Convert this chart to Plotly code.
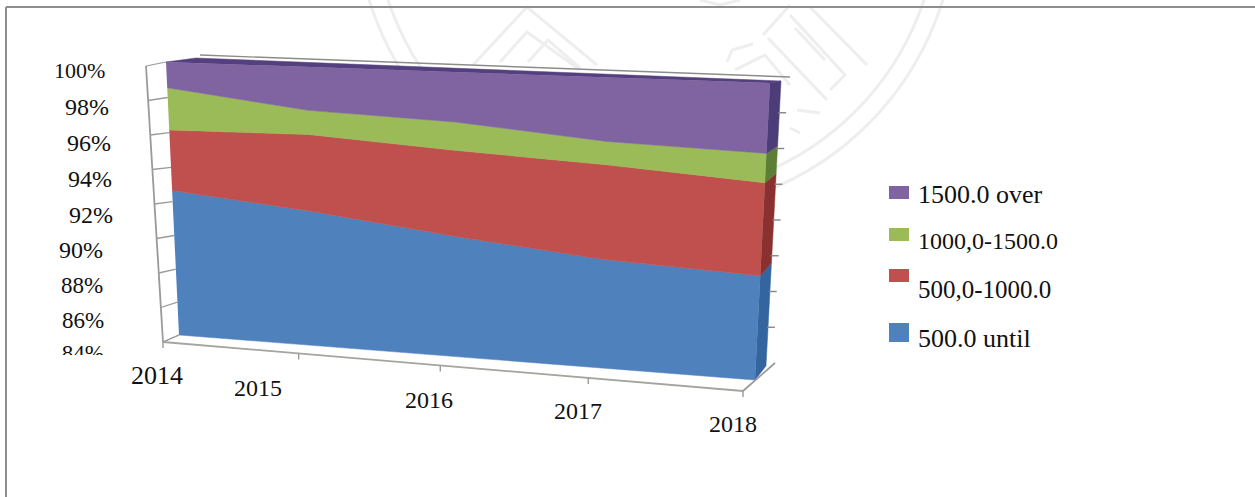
import numpy as np
import plotly.graph_objects as go

# ---------- data ----------
years = ["2014", "2015", "2016", "2017", "2018"]
share_until_500 = [92.65, 91.9, 90.95, 90.15, 89.8]
share_500_1000 = [3.5, 4.35, 4.8, 5.2, 5.0]
share_1000_1500 = [2.4, 1.35, 1.55, 1.25, 1.55]
share_1500_over = [1.45, 2.4, 2.7, 3.4, 3.65]
series_names = ["500.0 until", "500,0-1000.0", "1000,0-1500.0", "1500.0 over"]
pct_ticks = [100, 98, 96, 94, 92, 90, 88, 86, 84]

# ---------- styles / layout ----------
colors = ["#4F81BD", "#C0504D", "#9BBB59", "#8064A2"]
side_colors = ["#34659F", "#8A302E", "#5C7E36", "#4C3C78"]
AXIS = "#9a9a98"
SERIF = "Liberation Serif"
PMIN, PMAX = 84.0, 100.0

# corners of the front plane of the drawn 3-D box
BL, BR, TR, TL = (179, 335), (755, 380), (770, 83), (166, 62)
# depth offset: back edge of the right side band
SIDE_B, SIDE_T = (766, 366), (781, 81)


def homography(p0, p1, p2, p3):
    (x0, y0), (x1, y1), (x2, y2), (x3, y3) = p0, p1, p2, p3
    dx1, dy1 = x1 - x2, y1 - y2
    dx2, dy2 = x3 - x2, y3 - y2
    sx, sy = x0 - x1 + x2 - x3, y0 - y1 + y2 - y3
    det = dx1 * dy2 - dx2 * dy1
    g = (sx * dy2 - dx2 * sy) / det
    h = (dx1 * sy - sx * dy1) / det
    a, b, c = x1 - x0 + g * x1, x3 - x0 + h * x3, x0
    d, e, f = y1 - y0 + g * y1, y3 - y0 + h * y3, y0
    return a, b, c, d, e, f, g, h


H = homography(BL, BR, TR, TL)


def project(i, pct):
    """year index, percentage -> scale position on the tilted front plane"""
    u = np.asarray(i, float) / (len(years) - 1)
    v = (np.asarray(pct, float) - PMIN) / (PMAX - PMIN)
    a, b, c, d, e, f, g, h = H
    w = g * u + h * v + 1
    return (a * u + b * v + c) / w, (d * u + e * v + f) / w


def lerp(p, q, t):
    return p[0] + (q[0] - p[0]) * t, p[1] + (q[1] - p[1]) * t


fig = go.Figure()

layers = [share_until_500, share_500_1000, share_1000_1500, share_1500_over]
tops = np.cumsum(np.array(layers), axis=0)
idx = np.arange(len(years))

for k, name in enumerate(series_names):
    lower = tops[k - 1] if k else np.full(len(years), PMIN)
    upper = tops[k]
    xu, yu = project(idx, upper)
    xl, yl = project(idx, lower)
    fig.add_trace(go.Scatter(
        x=np.r_[xu, xl[::-1]], y=np.r_[yu, yl[::-1]], mode="lines", fill="toself",
        fillcolor=colors[k], line=dict(color=colors[k], width=0.5), name=name,
        showlegend=False, hoverinfo="skip"))
    # right side band of the layer
    tl, tu = (lower[-1] - PMIN) / (PMAX - PMIN), (upper[-1] - PMIN) / (PMAX - PMIN)
    fl, fu = project(idx[-1], lower[-1]), project(idx[-1], upper[-1])
    bl, bu = lerp(SIDE_B, SIDE_T, tl), lerp(SIDE_B, SIDE_T, tu)
    fig.add_trace(go.Scatter(
        x=[fu[0], bu[0], bl[0], fl[0]], y=[fu[1], bu[1], bl[1], fl[1]], mode="lines",
        fill="toself", fillcolor=side_colors[k], line=dict(color=side_colors[k], width=0.5),
        showlegend=False, hoverinfo="skip"))

# top face of the purple layer
fig.add_trace(go.Scatter(
    x=[TL[0], 196, SIDE_T[0], TR[0]], y=[TL[1], 58, SIDE_T[1], TR[1]], mode="lines",
    fill="toself", fillcolor="#54407f", line=dict(color="#54407f", width=0.5),
    showlegend=False, hoverinfo="skip"))


def seg(x, y, color=AXIS, width=1.6):
    fig.add_trace(go.Scatter(x=x, y=y, mode="lines", line=dict(color=color, width=width),
                             showlegend=False, hoverinfo="skip"))


# left wall, with gridlines at every tick
AX_T, AX_B = (146, 66), (163, 342)
seg([AX_T[0], AX_B[0]], [AX_T[1], AX_B[1]], width=1.8)
seg([AX_T[0], TL[0]], [AX_T[1], TL[1]], width=1.2)
seg([AX_T[0] + 54, 790], [55, 77], color="#8c8c8a", width=1.4)
for p in pct_ticks[1:]:
    t = (p - PMIN) / (PMAX - PMIN)
    a = lerp(AX_B, AX_T, t)
    fx, fy = project(0, p)
    seg([a[0], fx], [a[1], fy], width=1.3)

# floor
FL_A, FL_B = (163, 342), (743, 391)
g = H[6]
seg([FL_A[0], FL_B[0]], [FL_A[1], FL_B[1]], color="#a5a49d", width=1.8)
seg([FL_A[0], BL[0]], [FL_A[1], BL[1]], width=1.2)
seg([FL_B[0], 775], [FL_B[1], 363], width=1.8)
for i in idx:
    u = i / (len(years) - 1)
    s = u * (1 + g) / (1 + g * u)
    tx, ty = lerp(FL_A, FL_B, s)
    seg([tx, tx], [ty, ty + 6], width=1.4)

# right-hand wall ticks
RW_T, RW_B = (780, 77), (765, 363)
for p in pct_ticks[1:-1]:
    t = (PMAX - p) / (PMAX - PMIN)
    tx, ty = lerp(RW_T, RW_B, t)
    seg([tx, tx + 8], [ty, ty], color="#858585", width=1.4)

# labels of the percentage axis (84% is cut off by the picture frame)
y_label_right = [107, 111, 113, 114, 115, 105, 105, 106, 104]
y_label_mid = [70, 107, 143, 179, 215, 250, 285, 320, 355]
y_label_size = [22, 24, 24, 24, 24, 24, 23, 23, 23]
annotations = []
for p, xr, ym, fs in zip(pct_ticks[:-1], y_label_right, y_label_mid, y_label_size):
    annotations.append(dict(x=xr, y=ym, text=f"{p}%", showarrow=False, xanchor="right", yanchor="middle",
                            font=dict(family=SERIF, size=fs, color="#111")))
fig.add_trace(go.Scatter(x=[y_label_right[-1]], y=[y_label_mid[-1]], mode="text", text=[f"{pct_ticks[-1]}%"],
                         textposition="middle left",
                         textfont=dict(family=SERIF, size=y_label_size[-1], color="#111"),
                         showlegend=False, hoverinfo="skip"))

# labels of the year axis
x_label_mid = [157, 258, 429, 578, 733]
x_label_y = [375, 388, 400, 411, 424]
x_label_size = [26, 24, 24, 24, 24]
for lab, xm, ym, fs in zip(years, x_label_mid, x_label_y, x_label_size):
    annotations.append(dict(x=xm, y=ym, text=lab, showarrow=False, xanchor="center", yanchor="middle",
                            font=dict(family=SERIF, size=fs, color="#111")))

# legend
leg_names = series_names[::-1]
leg_colors = colors[::-1]
leg_box = [(186, 199), (228, 241), (269, 282), (323, 342)]
leg_text_y = [194, 241, 289, 338]
leg_size = [26, 24, 25, 26]
shapes = []
for name, col, (y0, y1), ty, fs in zip(leg_names, leg_colors, leg_box, leg_text_y, leg_size):
    shapes.append(dict(type="rect", x0=889, x1=909, y0=y0, y1=y1, fillcolor=col, line=dict(width=0),
                       layer="below"))
    annotations.append(dict(x=916, y=ty, text=name, showarrow=False, xanchor="left", yanchor="middle",
                            font=dict(family=SERIF, size=fs, color="#111")))

# clipping of the lowest tick label
shapes.append(dict(type="rect", x0=40, x1=135, y0=355, y1=368, fillcolor="white", line=dict(width=0),
                   layer="above"))

# frame
FRAME = "#8e8e8e"
shapes.append(dict(type="line", x0=6, x1=1255, y0=7, y1=7, line=dict(color=FRAME, width=2), layer="above"))
shapes.append(dict(type="line", x0=6, x1=6, y0=7, y1=497, line=dict(color=FRAME, width=2), layer="above"))

# faint seal behind the chart
SEAL = "#eeeeee"
for r in (300, 282):
    shapes.append(dict(type="circle", x0=656 - r, x1=656 + r, y0=-88 - r, y1=-88 + r,
                       line=dict(color=SEAL, width=3), layer="below"))
seal_paths = [
    "M473,65 L527,7 L597,65", "M500,62 L527,32 L580,70", "M528,62 L548,40 L580,68",
    "M763,35 L790,5", "M810,7 L867,65", "M768,38 L827,100", "M790,15 L845,75 L830,90",
    "M795,28 L825,60", "M727,62 L732,50 L753,44", "M735,70 L765,55 L790,85",
    "M797,110 L820,113", "M790,128 L800,133", "M700,0 L720,5 L740,0",
]
for pth in seal_paths:
    shapes.append(dict(type="path", path=pth, line=dict(color=SEAL, width=3), layer="below"))

fig.update_layout(
    width=1255, height=497, margin=dict(l=0, r=0, t=0, b=0),
    paper_bgcolor="white", plot_bgcolor="white", showlegend=False,
    xaxis=dict(range=[0, 1255], visible=False, fixedrange=True),
    yaxis=dict(range=[497, 0], visible=False, fixedrange=True),
    shapes=shapes, annotations=annotations,
)
fig.write_html("out.html", config={"displayModeBar": False},
               post_script="document.body.style.margin='0';document.body.style.overflow='hidden';")
